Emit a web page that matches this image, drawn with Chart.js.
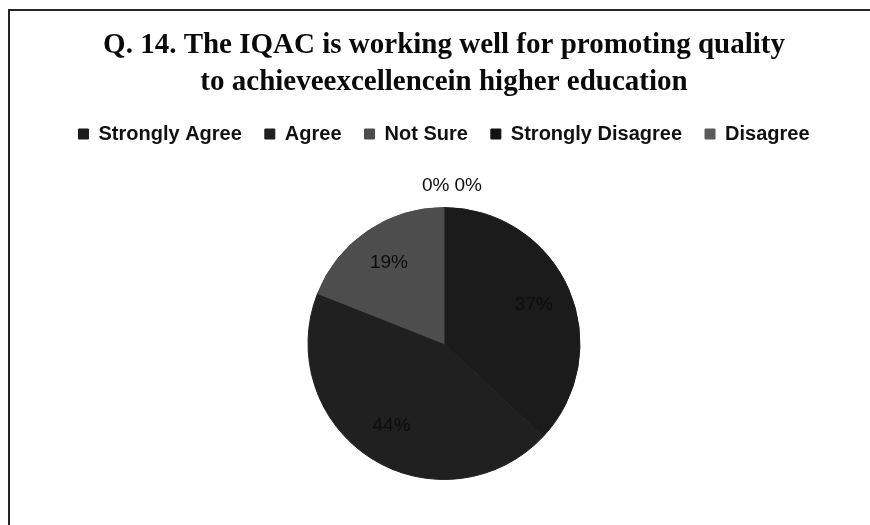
<!DOCTYPE html>
<html>
<head>
<meta charset="utf-8">
<script src="https://cdn.jsdelivr.net/npm/chart.js@4.4.1/dist/chart.umd.min.js"></script>
<style>
  html, body { margin: 0; padding: 0; background: #ffffff; }
  #wrap { position: relative; width: 870px; height: 525px; }
</style>
</head>
<body>
<div id="wrap"><canvas id="c" width="870" height="525"></canvas></div>
<script>
const categories = ['Strongly Agree', 'Agree', 'Not Sure', 'Strongly Disagree', 'Disagree'];
const percentValues = [37, 44, 19, 0, 0];
const sliceColors = ['#1b1b1b', '#202020', '#4d4d4d', '#121212', '#5a5a5a'];
const titleLines = ['Q. 14. The IQAC is working well for promoting quality', 'to achieveexcellencein higher education'];

const frameBorder = {
  id: 'frameBorder',
  beforeDraw(chart) {
    const ctx = chart.ctx;
    ctx.save();
    ctx.fillStyle = '#ffffff';
    ctx.fillRect(0, 0, chart.width, chart.height);
    ctx.strokeStyle = '#262626';
    ctx.lineWidth = 2;
    ctx.beginPath();
    ctx.moveTo(9, chart.height);
    ctx.lineTo(9, 10);
    ctx.lineTo(chart.width, 10);
    ctx.stroke();
    ctx.restore();
  }
};

const legendGap = {
  id: 'legendGap',
  beforeInit(chart) {
    const legend = chart.legend;
    const origFit = legend.fit;
    legend.fit = function () {
      origFit.call(this);
      this.height += 8;
    };
  }
};

const sliceLabels = {
  id: 'sliceLabels',
  afterDatasetsDraw(chart) {
    const ctx = chart.ctx;
    const meta = chart.getDatasetMeta(0);
    const data = chart.data.datasets[0].data;
    ctx.save();
    ctx.font = '19px "Liberation Sans", sans-serif';
    ctx.fillStyle = '#0d0d0d';
    ctx.textAlign = 'center';
    ctx.textBaseline = 'middle';
    const zeros = [];
    meta.data.forEach((arc, i) => {
      const txt = data[i] + '%';
      if (data[i] > 0) {
        const mid = (arc.startAngle + arc.endAngle) / 2;
        const r = arc.outerRadius * 0.72;
        ctx.fillText(txt, arc.x + Math.cos(mid) * r, arc.y + Math.sin(mid) * r);
      } else {
        zeros.push({ arc, txt });
      }
    });
    if (zeros.length) {
      const gap = 5;
      const widths = zeros.map(z => ctx.measureText(z.txt).width);
      const total = widths.reduce((a, b) => a + b, 0) + gap * (zeros.length - 1);
      const a0 = zeros[0].arc;
      let x = a0.x + 8 - total / 2;
      const y = a0.y - a0.outerRadius - 22;
      ctx.textAlign = 'left';
      zeros.forEach((z, k) => {
        ctx.fillText(z.txt, x, y);
        x += widths[k] + gap;
      });
    }
    ctx.restore();
  }
};

new Chart(document.getElementById('c'), {
  type: 'pie',
  data: {
    labels: categories,
    datasets: [{
      data: percentValues,
      backgroundColor: sliceColors,
      borderColor: sliceColors,
      borderWidth: 1
    }]
  },
  options: {
    responsive: false,
    animation: false,
    radius: 136,
    layout: { padding: { left: 18, right: 0, top: 0, bottom: 0 } },
    plugins: {
      title: {
        display: true,
        text: titleLines,
        color: '#0a0a0a',
        font: { family: '"Liberation Serif", "Times New Roman", serif', size: 29, weight: 'bold', lineHeight: 1.276 },
        padding: { top: 27, bottom: 0 }
      },
      legend: {
        position: 'top',
        labels: {
          color: '#111111',
          boxWidth: 10,
          boxHeight: 10,
          padding: 23,
          font: { family: '"Liberation Sans", sans-serif', size: 20, weight: 'bold' }
        }
      },
      tooltip: { enabled: false }
    }
  },
  plugins: [frameBorder, legendGap, sliceLabels]
});
</script>
</body>
</html>
